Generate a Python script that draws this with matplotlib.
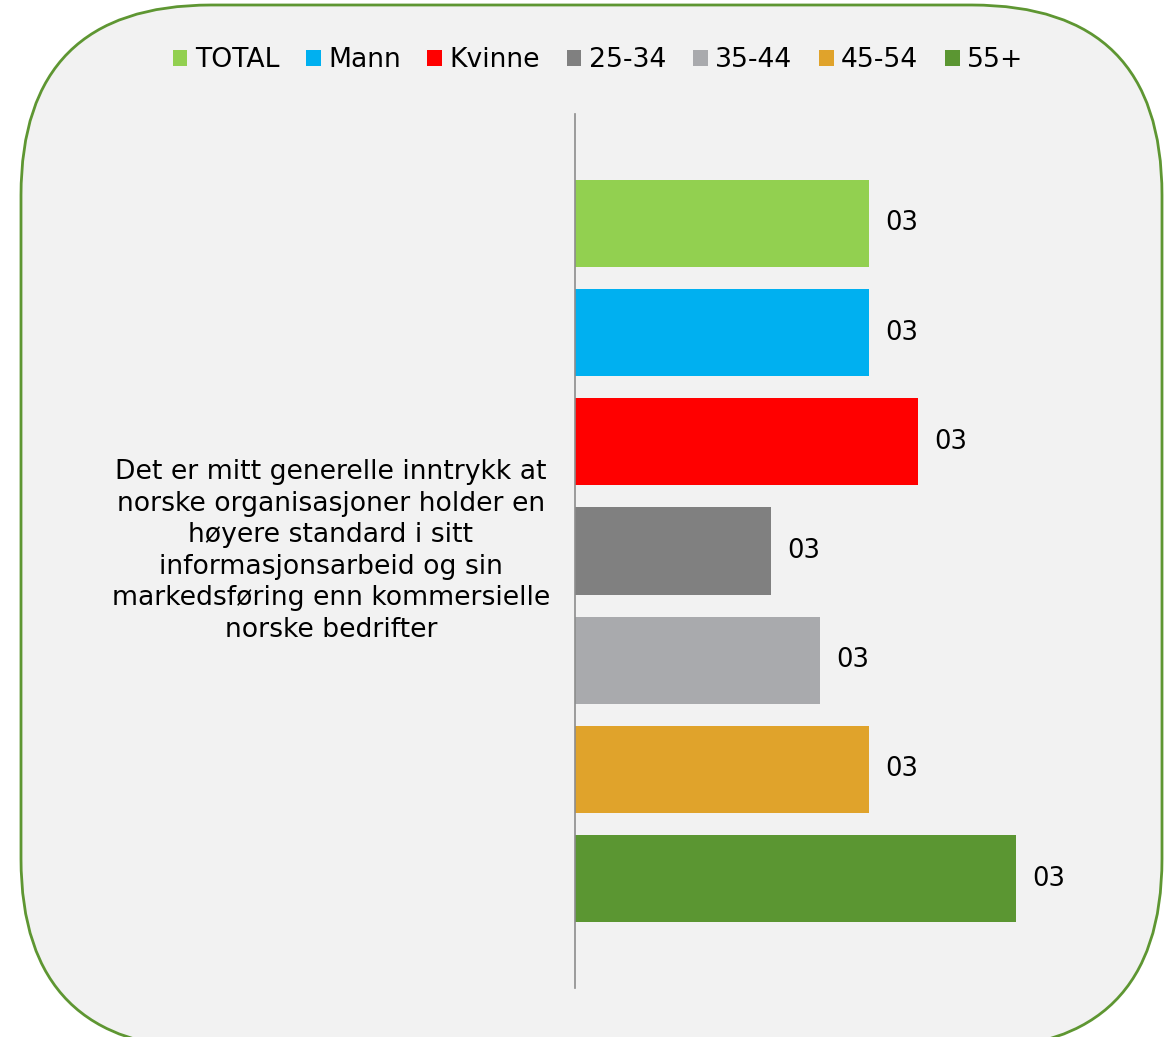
import matplotlib.pyplot as plt
from matplotlib.patches import FancyBboxPatch

# data
series = ['TOTAL', 'Mann', 'Kvinne', '25-34', '35-44', '45-54', '55+']
values = [6, 6, 7, 4, 5, 6, 9]
labels = ['03', '03', '03', '03', '03', '03', '03']
colors = ['#92d050', '#00b0f0', '#ff0000', '#808080', '#a9aaad', '#e0a32b', '#5b9632']
question = ('Det er mitt generelle inntrykk at\nnorske organisasjoner holder en\n'
            'høyere standard i sitt\ninformasjonsarbeid og sin\n'
            'markedsføring enn kommersielle\nnorske bedrifter')

plt.rcParams['font.family'] = ['DejaVu Sans']
fig = plt.figure(figsize=(11.71, 10.37), dpi=100)
fig.patch.set_facecolor('white')

# rounded background box (bottom edge runs off the picture)
box = FancyBboxPatch((0.21, -0.12), 11.41, 10.44,
                     boxstyle='round,pad=0,rounding_size=1.9',
                     transform=fig.dpi_scale_trans, facecolor='#f2f2f2',
                     edgecolor='#5e9632', linewidth=2, zorder=-5)
fig.patches.append(box)

ax = fig.add_axes([575/1171, 1-988/1037, 588/1171, 874/1037])
ax.set_facecolor('none')
ax.set_zorder(2)
bars = []
for i, (s, v, c) in enumerate(zip(series, values, colors)):
    b = ax.barh(i, v, height=0.8, color=c, label=s)
    bars.append(b)
    ax.annotate(labels[i], xy=(v, i), xytext=(12, 0), textcoords='offset points',
                ha='left', va='center', fontsize=18.5)

ax.set_ylim(7, -1)
ax.set_xlim(0, 12)
for side in ['top', 'right', 'bottom']:
    ax.spines[side].set_visible(False)
ax.spines['left'].set_color('#8c8c8c')
ax.spines['left'].set_linewidth(1.2)
ax.set_xticks([])
ax.set_yticks([])

fig.text(331/1171, 1-551/1037, question, ha='center', va='center',
         multialignment='center', fontsize=19.2, linespacing=1.28)

fig.legend(handles=bars, labels=series, loc='center', bbox_to_anchor=(598/1171, 1-60/1037),
           ncol=7, frameon=False, fontsize=19.2, handlelength=0.55, handleheight=0.55,
           handletextpad=0.28, columnspacing=1.0)

plt.savefig('out.png', dpi=100)
